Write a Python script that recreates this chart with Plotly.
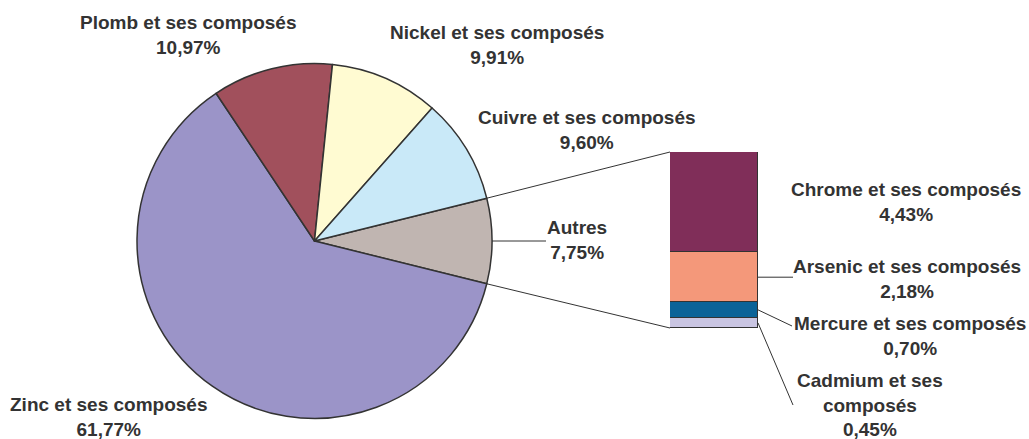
import math
import plotly.graph_objects as go

W, H = 1029, 439

# pie slices, in drawing order (clockwise, starting at the top edge of "Autres")
pie_labels = ["Autres", "Zinc et ses composés", "Plomb et ses composés",
              "Nickel et ses composés", "Cuivre et ses composés"]
pie_values = [7.75, 61.77, 10.97, 9.91, 9.60]
pie_colors = ["#C0B5B1", "#9B94C8", "#A1505C", "#FFFBD2", "#C9E9F8"]

# breakdown of "Autres", bottom to top
bar_labels = ["Cadmium et ses composés", "Mercure et ses composés",
              "Arsenic et ses composés", "Chrome et ses composés"]
bar_values = [0.45, 0.70, 2.18, 4.43]
bar_colors = ["#C9C5E2", "#0B6398", "#F4987A", "#802E59"]

TXT = "#333333"
FONT = "Liberation Sans"


def px(x):
    return x / W


def py(y):
    return 1 - y / H


# pie placement (pixels)
cx, cy, R = 314.5, 241, 177.5
# bar placement (pixels)
bx0, bx1, by_top, by_bot = 670, 758, 152, 328

fig = go.Figure()

half = pie_values[0] / sum(pie_values) * 180.0
fig.add_trace(go.Pie(
    labels=pie_labels, values=pie_values, sort=False, direction="clockwise",
    rotation=90 - half,
    marker=dict(colors=pie_colors, line=dict(color="#333333", width=1.5)),
    textinfo="none", hoverinfo="label+value", showlegend=False,
    domain=dict(x=[px(cx - R), px(cx + R)], y=[py(cy + R), py(cy - R)]),
))

for lab, val, col in zip(bar_labels, bar_values, bar_colors):
    fig.add_trace(go.Bar(
        x=[0], y=[val], width=1, name=lab, showlegend=False,
        marker=dict(color=col, line=dict(color="#333333", width=1.5)),
        xaxis="x", yaxis="y",
    ))

total_bar = sum(bar_values)

# connector lines from the "Autres" slice edges to the bar corners
a = math.radians(half)
ex = cx + R * math.cos(a)
shapes = [
    dict(type="line", xref="paper", yref="paper",
         x0=px(ex), y0=py(cy - R * math.sin(a)), x1=px(bx0), y1=py(by_top),
         line=dict(color="#333333", width=1)),
    dict(type="line", xref="paper", yref="paper",
         x0=px(ex), y0=py(cy + R * math.sin(a)), x1=px(bx0), y1=py(by_bot),
         line=dict(color="#333333", width=1)),
]


def seg_mid(i):
    lo = sum(bar_values[:i])
    return by_bot - (lo + bar_values[i] / 2) / total_bar * (by_bot - by_top)


# leader lines
leaders = [
    ((cx + R, cy), (546, cy)),
    ((bx1, seg_mid(2)), (793, seg_mid(2))),
    ((bx1, seg_mid(1)), (792, 326)),
    ((bx1, seg_mid(0)), (793, 405)),
]
for (x0, y0), (x1, y1) in leaders:
    shapes.append(dict(type="line", xref="paper", yref="paper",
                       x0=px(x0), y0=py(y0), x1=px(x1), y1=py(y1),
                       line=dict(color="#333333", width=1)))

# label text positions (pixels, block centre)
label_pos = {
    "Plomb et ses composés": (188, 35),
    "Nickel et ses composés": (497, 45),
    "Cuivre et ses composés": (587, 130),
    "Autres": (577, 240),
    "Zinc et ses composés": (108, 417),
    "Chrome et ses composés": (906, 202),
    "Arsenic et ses composés": (907, 279),
    "Mercure et ses composés": (910, 336),
    "Cadmium et ses composés": (870, 405),
}


def fmt(v):
    return f"{v:.2f}%".replace(".", ",")


annotations = []
for lab, val in list(zip(pie_labels, pie_values)) + list(zip(bar_labels, bar_values)):
    x, y = label_pos[lab]
    name = "Cadmium et ses<br>composés" if lab.startswith("Cadmium") else lab
    annotations.append(dict(
        x=px(x), y=py(y), xref="paper", yref="paper", showarrow=False,
        xanchor="center", yanchor="middle", align="center",
        text=f"<b>{name}<br>{fmt(val)}</b>",
        font=dict(family=FONT, size=19, color=TXT),
    ))

fig.update_layout(
    width=W, height=H, margin=dict(l=0, r=0, t=0, b=0),
    paper_bgcolor="white", plot_bgcolor="white",
    barmode="stack", bargap=0,
    xaxis=dict(domain=[px(bx0), px(bx1)], range=[-0.5, 0.5], visible=False, fixedrange=True),
    yaxis=dict(domain=[py(by_bot), py(by_top)], range=[0, total_bar], visible=False, fixedrange=True),
    shapes=shapes, annotations=annotations,
)

fig.write_html("out.html", config={"displayModeBar": False},
               post_script="document.body.style.margin='0';document.body.style.overflow='hidden';")
